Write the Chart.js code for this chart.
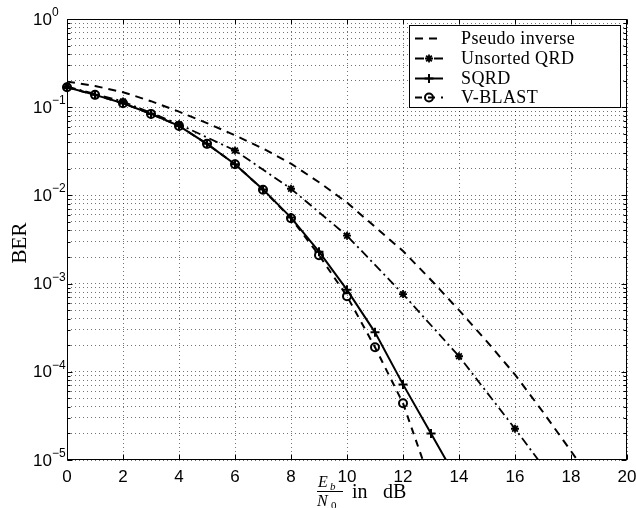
<!DOCTYPE html>
<html><head><meta charset="utf-8">
<script src="https://cdn.jsdelivr.net/npm/chart.js@4/dist/chart.umd.min.js"></script>
<style>html,body{margin:0;padding:0;background:#fff;}#wrap{width:636px;height:508px;}</style>
</head><body><div id="wrap"><canvas id="c" width="636" height="508"></canvas></div>
<script>
// ---- data ----
const snrDb = [0,1,2,3,4,5,6,7,8,9,10,11,12,13,14,15,16,17,18,19,20];
const pseudoInverse = [0.195,0.174,0.148,0.117,0.089,0.066,0.048,0.034,0.0229,0.0141,0.0083,0.0044,0.00234,0.0011,5.0e-4,2.2e-4,9.3e-5,3.5e-5,1.26e-5,4.5e-6,1.4e-6];
const unsortedSnrDb = [0,2,4,6,8,10,12,14,16,18];
const unsortedQrd = [0.172,0.116,0.064,0.0323,0.0119,0.00349,7.6e-4,1.5e-4,2.26e-5,3.2e-6];
const sqrdSnrDb = [0,1,2,3,4,5,6,7,8,9,10,11,12,13,14];
const sqrd = [0.168,0.138,0.111,0.084,0.0614,0.0384,0.0226,0.0117,0.0056,0.0023,8.5e-4,2.8e-4,7.2e-5,2.0e-5,5.5e-6];
const vblastSnrDb = [0,1,2,3,4,5,6,7,8,9,10,11,12,13];
const vblast = [0.168,0.138,0.111,0.084,0.0614,0.0384,0.0226,0.0116,0.0055,0.0021,7.2e-4,1.9e-4,4.4e-5,5.4e-6];
const seriesNames = ['Pseudo inverse','Unsorted QRD','SQRD','V-BLAST'];
const xTicks = [0,2,4,6,8,10,12,14,16,18,20];
const yDecades = [0,-1,-2,-3,-4,-5];
const yMantissas = [1,2,3,4,5,6,7,8,9];

// tick values for the log axis (1..9 x 10^e)
const yTickValues = [];
yDecades.slice().reverse().forEach(e => {
  if (e === 0) { yTickValues.push(1); return; }
  yMantissas.forEach(m => yTickValues.push(+(m * Math.pow(10, e)).toPrecision(3)));
});
const pts = (xs, ys) => xs.map((v, i) => ({x: v, y: ys[i]}));

const GRID = 'rgba(0,0,0,0.55)';
const SERIF = '"Liberation Serif", "Times New Roman", serif';
const SANS = '"Liberation Sans", Arial, sans-serif';

const decor = {
  id: 'decor',
  afterDraw(chart) {
    const {ctx, chartArea: a} = chart;
    const xs = chart.scales.x, ys = chart.scales.y;
    ctx.save();
    ctx.strokeStyle = '#000'; ctx.lineWidth = 1; ctx.setLineDash([]);
    const L = Math.round(a.left) + 0.5, R = Math.round(a.right) - 0.5;
    const T = Math.round(a.top) + 0.5, B = Math.round(a.bottom) - 0.5;
    ctx.strokeRect(L, T, R - L, B - T);
    // inside ticks
    ctx.beginPath();
    xTicks.forEach(v => {
      const px = Math.round(xs.getPixelForValue(v)) + 0.5;
      ctx.moveTo(px, B); ctx.lineTo(px, B - 5);
      ctx.moveTo(px, T); ctx.lineTo(px, T + 5);
    });
    yTickValues.forEach(v => {
      const py = Math.round(ys.getPixelForValue(v)) + 0.5;
      const major = Math.abs(Math.log10(v) - Math.round(Math.log10(v))) < 1e-6;
      const len = major ? 5 : 3;
      ctx.moveTo(L, py); ctx.lineTo(L + len, py);
      ctx.moveTo(R, py); ctx.lineTo(R - len, py);
    });
    ctx.stroke();
    // y tick labels 10^e
    ctx.fillStyle = '#000';
    yDecades.forEach(e => {
      const py = ys.getPixelForValue(Math.pow(10, e));
      ctx.font = '17px ' + SANS; ctx.textBaseline = 'middle'; ctx.textAlign = 'left';
      ctx.fillText('10', 33, py + 1);
      const w = ctx.measureText('10').width;
      ctx.font = '12px ' + SANS; ctx.textBaseline = 'alphabetic';
      ctx.fillText(e === 0 ? '0' : '\u2212' + (-e), 33 + w, py - 3);
    });
    // y title
    ctx.save();
    ctx.translate(20, 243); ctx.rotate(-Math.PI / 2);
    ctx.font = '21px ' + SERIF; ctx.textAlign = 'center'; ctx.textBaseline = 'middle';
    ctx.fillText('BER', 0, 0);
    ctx.restore();
    // x title: Eb/N0 in dB
    ctx.textAlign = 'left'; ctx.textBaseline = 'alphabetic';
    ctx.font = 'italic 16px ' + SERIF; ctx.fillText('E', 318, 487);
    ctx.font = 'italic 11px ' + SERIF; ctx.fillText('b', 330, 490);
    ctx.beginPath(); ctx.moveTo(317, 491.5); ctx.lineTo(343, 491.5); ctx.stroke();
    ctx.font = 'italic 16px ' + SERIF; ctx.fillText('N', 317, 506);
    ctx.font = '11px ' + SERIF; ctx.fillText('0', 331, 509);
    ctx.font = '20px ' + SERIF; ctx.fillText('in', 352, 498); ctx.fillText('dB', 383, 498);
    // legend
    const bx = 409.5, by = 25.5, bw = 211, bh = 82;
    ctx.fillStyle = '#fff'; ctx.fillRect(bx, by, bw, bh);
    ctx.strokeRect(bx, by, bw, bh);
    const rows = [38, 58, 78, 97];
    chart.data.datasets.forEach((ds, i) => {
      const yy = rows[i] + 0.5;
      ctx.save();
      ctx.strokeStyle = '#000'; ctx.lineWidth = ds.borderWidth;
      ctx.setLineDash(ds.borderDash || []);
      ctx.beginPath(); ctx.moveTo(415, yy); ctx.lineTo(443, yy); ctx.stroke();
      ctx.setLineDash([]);
      if (ds.pointRadius > 0) {
        ctx.fillStyle = 'rgba(0,0,0,0)'; ctx.lineWidth = ds.pointBorderWidth;
        Chart.helpers.drawPoint(ctx, {pointStyle: ds.pointStyle, radius: ds.pointRadius, borderWidth: ds.pointBorderWidth, rotation: 0}, 429, yy);
      }
      ctx.restore();
      ctx.fillStyle = '#000';
      ctx.font = '18px ' + SERIF; ctx.textBaseline = 'middle'; ctx.textAlign = 'left';
      try { ctx.letterSpacing = '0.4px'; } catch (e) {}
      ctx.fillText(ds.label, 461, rows[i] + 1);
      try { ctx.letterSpacing = '0px'; } catch (e) {}
    });
    ctx.restore();
  }
};

const clipArea = {left: 8, top: 0, right: 0, bottom: 0};
new Chart(document.getElementById('c'), {
  type: 'line',
  data: {
    datasets: [
      {label: seriesNames[0], data: pts(snrDb, pseudoInverse), borderColor: '#000', borderWidth: 2,
       borderDash: [8, 6], pointRadius: 0, fill: false, tension: 0, clip: clipArea},
      {label: seriesNames[1], data: pts(unsortedSnrDb, unsortedQrd), borderColor: '#000', borderWidth: 1.8,
       borderDash: [9, 4, 2, 4], pointStyle: 'star', pointRadius: 4, pointBorderWidth: 1.8,
       pointBorderColor: '#000', pointBackgroundColor: 'rgba(0,0,0,0)', fill: false, tension: 0, clip: clipArea},
      {label: seriesNames[2], data: pts(sqrdSnrDb, sqrd), borderColor: '#000', borderWidth: 2,
       borderDash: [], pointStyle: 'cross', pointRadius: 4.5, pointBorderWidth: 2,
       pointBorderColor: '#000', pointBackgroundColor: 'rgba(0,0,0,0)', fill: false, tension: 0, clip: clipArea},
      {label: seriesNames[3], data: pts(vblastSnrDb, vblast), borderColor: '#000', borderWidth: 2,
       borderDash: [7, 6], pointStyle: 'circle', pointRadius: 4, pointBorderWidth: 2,
       pointBorderColor: '#000', pointBackgroundColor: 'rgba(0,0,0,0)', fill: false, tension: 0, clip: clipArea}
    ]
  },
  options: {
    responsive: false, animation: false, devicePixelRatio: 1,
    layout: {padding: {left: 0, right: 9, top: 19, bottom: 0}},
    plugins: {legend: {display: false}, tooltip: {enabled: false}},
    scales: {
      x: {type: 'linear', min: 0, max: 20,
          afterBuildTicks: s => { s.ticks = xTicks.map(v => ({value: v})); },
          ticks: {autoSkip: false, maxRotation: 0, color: '#000', padding: 7,
                  font: {family: SANS, size: 17}},
          grid: {color: GRID, lineWidth: 1, drawTicks: false},
          border: {display: false, dash: [1, 3]},
          afterFit: s => { s.height = 48; s.paddingLeft = 0; s.paddingRight = 0; }},
      y: {type: 'logarithmic', min: 1e-5, max: 1,
          afterBuildTicks: s => { s.ticks = yTickValues.map(v => ({value: v})); },
          ticks: {display: false, autoSkip: false},
          grid: {color: GRID, lineWidth: 1, drawTicks: false},
          border: {display: false, dash: [1, 3]},
          afterFit: s => { s.width = 67; s.paddingTop = 0; s.paddingBottom = 0; }}
    }
  },
  plugins: [decor]
});
</script></body></html>
